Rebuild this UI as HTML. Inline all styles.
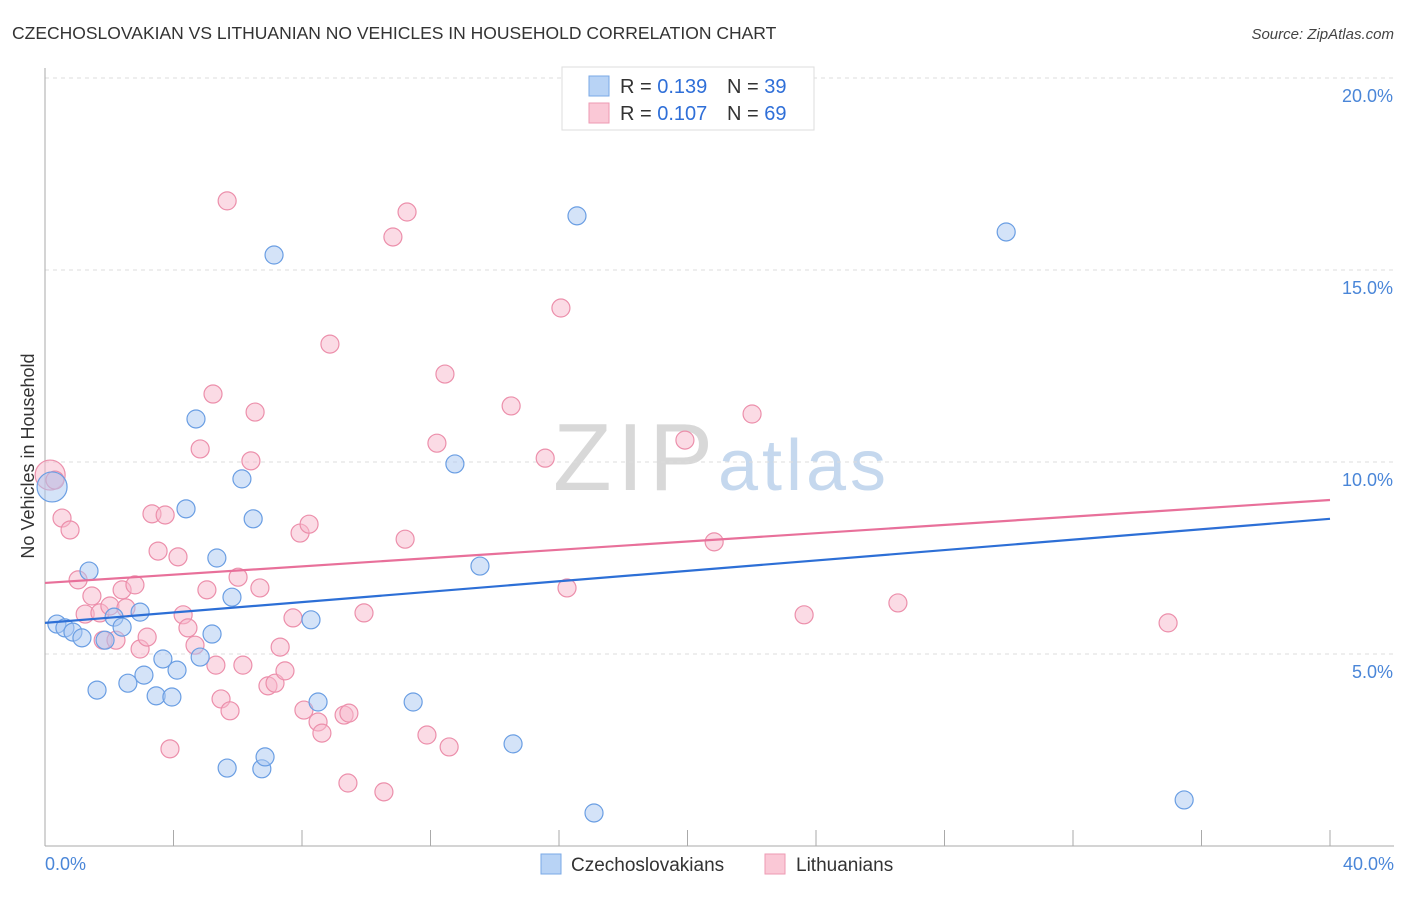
<!DOCTYPE html>
<html><head><meta charset="utf-8"><style>
body{margin:0;background:#fff;font-family:"Liberation Sans",sans-serif;}
svg text{font-family:"Liberation Sans",sans-serif;}
</style></head><body>
<svg id="chart" width="1406" height="892" xmlns="http://www.w3.org/2000/svg">
<text x="12" y="39" font-size="17.5" fill="#333">CZECHOSLOVAKIAN VS LITHUANIAN NO VEHICLES IN HOUSEHOLD CORRELATION CHART</text>
<text x="1394" y="39" font-size="15" fill="#444" font-style="italic" text-anchor="end">Source: ZipAtlas.com</text>
<text x="553" y="490" font-size="96" font-family="Liberation Serif" fill="#d8d8d8" textLength="160">ZIP</text>
<text x="718" y="490" font-size="72" fill="#c5d8ee" textLength="168">atlas</text>
<g id="grid"></g>
<g id="axes"></g>
<g id="marks"></g>
<text transform="translate(34,456) rotate(-90)" font-size="18" fill="#333" text-anchor="middle">No Vehicles in Household</text>
<g>
<rect x="562" y="67" width="252" height="63" fill="#fff" stroke="#ddd"/>
<rect x="589" y="76" width="20" height="20" fill="#b8d3f5" stroke="#7aa8e6"/>
<rect x="589" y="103" width="20" height="20" fill="#fac8d6" stroke="#ee9ab3"/>
<text x="620" y="93" font-size="20" fill="#333">R = <tspan fill="#2f6fd8">0.139</tspan></text>
<text x="727" y="93" font-size="20" fill="#333">N = <tspan fill="#2f6fd8">39</tspan></text>
<text x="620" y="120" font-size="20" fill="#333">R = <tspan fill="#2f6fd8">0.107</tspan></text>
<text x="727" y="120" font-size="20" fill="#333">N = <tspan fill="#2f6fd8">69</tspan></text>
</g>
<g>
<rect x="541" y="854" width="20" height="20" fill="#b8d3f5" stroke="#7aa8e6"/>
<text x="571" y="871" font-size="19" fill="#333">Czechoslovakians</text>
<rect x="765" y="854" width="20" height="20" fill="#fac8d6" stroke="#ee9ab3"/>
<text x="796" y="871" font-size="19" fill="#333">Lithuanians</text>
</g>
</svg>
<script>
const czechX=[0.22,0.37,0.62,0.87,1.15,1.37,1.62,1.87,2.15,2.40,2.58,2.96,3.08,3.46,3.67,3.95,4.11,4.39,4.70,4.83,5.20,5.35,5.67,5.82,6.13,6.48,6.75,6.85,7.13,8.28,8.50,11.46,12.76,13.54,14.57,16.56,17.09,29.92,35.46];
const czechY=[9.35,5.78,5.68,5.57,5.42,7.16,4.06,5.36,5.96,5.70,4.24,6.09,4.45,3.91,4.87,3.88,4.58,8.78,11.12,4.92,5.52,7.50,2.03,6.48,9.56,8.52,2.01,2.32,15.39,5.89,3.75,3.75,9.95,7.29,2.66,16.41,0.86,15.99,1.20];
const lithX=[0.16,0.31,0.53,0.78,1.03,1.25,1.46,1.71,1.81,2.02,2.21,2.40,2.52,2.80,2.96,3.18,3.33,3.52,3.74,3.89,4.14,4.30,4.45,4.67,4.83,5.04,5.23,5.32,5.48,5.67,5.76,6.01,6.16,6.41,6.54,6.69,6.94,7.16,7.32,7.47,7.72,7.94,8.06,8.22,8.50,8.62,8.87,9.31,9.46,9.43,9.93,10.55,10.83,11.21,11.27,11.89,12.20,12.45,12.58,14.51,15.57,16.06,16.25,19.92,20.83,22.01,23.63,26.55,34.96];
const lithY=[9.66,9.53,8.54,8.23,6.93,6.04,6.51,6.07,5.36,6.25,5.36,6.67,6.20,6.80,5.13,5.44,8.65,7.68,8.62,2.53,7.53,6.02,5.68,5.23,10.34,6.67,11.77,4.71,3.83,16.80,3.52,7.00,4.71,10.03,11.30,6.72,4.17,4.24,5.18,4.56,5.94,8.15,3.54,8.38,3.23,2.94,13.07,3.41,3.46,1.64,6.07,1.41,15.86,7.99,16.51,2.89,10.49,12.29,2.58,11.46,10.10,14.01,6.72,10.57,7.92,11.25,6.02,6.33,5.81];
const czechTrend=[5.81,8.52];
const lithTrend=[6.85,9.01];
const yTicks=[5,10,15,20];
const yTickLabels=["5.0%","10.0%","15.0%","20.0%"];
const xTicks=[0,4,8,12,16,20,24,28,32,36,40];
const NS="http://www.w3.org/2000/svg";
const xs=v=>45+v/40*1285;
const ys=v=>846-v/5*192;
function mk(tag,attrs,parent){const e=document.createElementNS(NS,tag);for(const k in attrs)e.setAttribute(k,attrs[k]);parent.appendChild(e);return e;}
const grid=document.getElementById('grid'),axes=document.getElementById('axes'),marks=document.getElementById('marks');
yTicks.forEach((t,i)=>{
 const l=mk('line',{x1:45,x2:1394,y1:ys(t),y2:ys(t),stroke:'#ddd','stroke-dasharray':'4,4'},grid);
 
 
 const tx=mk('text',{x:1393,y:ys(t)+24,'font-size':18,fill:'#4a86d8','text-anchor':'end'},axes);
 tx.textContent=yTickLabels[i];
 
 
});
mk('line',{x1:45,x2:45,y1:68,y2:846,stroke:'#aaa'},axes);
mk('line',{x1:45,x2:1394,y1:846,y2:846,stroke:'#aaa'},axes);
xTicks.forEach(t=>{const l=mk('line',{x1:xs(t),x2:xs(t),y1:830,y2:846,stroke:'#aaa'},axes);
 
 });
const x0=mk('text',{x:45,y:870,'font-size':18,fill:'#4a86d8'},axes);x0.textContent="0.0%";


const x1=mk('text',{x:1394,y:870,'font-size':18,fill:'#4a86d8','text-anchor':'end'},axes);x1.textContent="40.0%";


function pts(X,Y,fill,stroke,name){X.forEach((x,i)=>{const big=i===0;
 const c=mk('circle',{cx:xs(x),cy:ys(Y[i]),r:big?15:9,fill:fill,'fill-opacity':0.5,stroke:stroke,'stroke-width':1.2},marks);
 
 });}
pts(lithX,lithY,'#f7b8cb','#ec8fab','lithuanian-point');
pts(czechX,czechY,'#a9c8f2','#6a9ee3','czech-point');
const t1=mk('line',{x1:xs(0),y1:ys(czechTrend[0]),x2:xs(40),y2:ys(czechTrend[1]),stroke:'#2d6fd6','stroke-width':2.2},marks);


const t2=mk('line',{x1:xs(0),y1:ys(lithTrend[0]),x2:xs(40),y2:ys(lithTrend[1]),stroke:'#e8709a','stroke-width':2.2},marks);


</script>
</body></html>
